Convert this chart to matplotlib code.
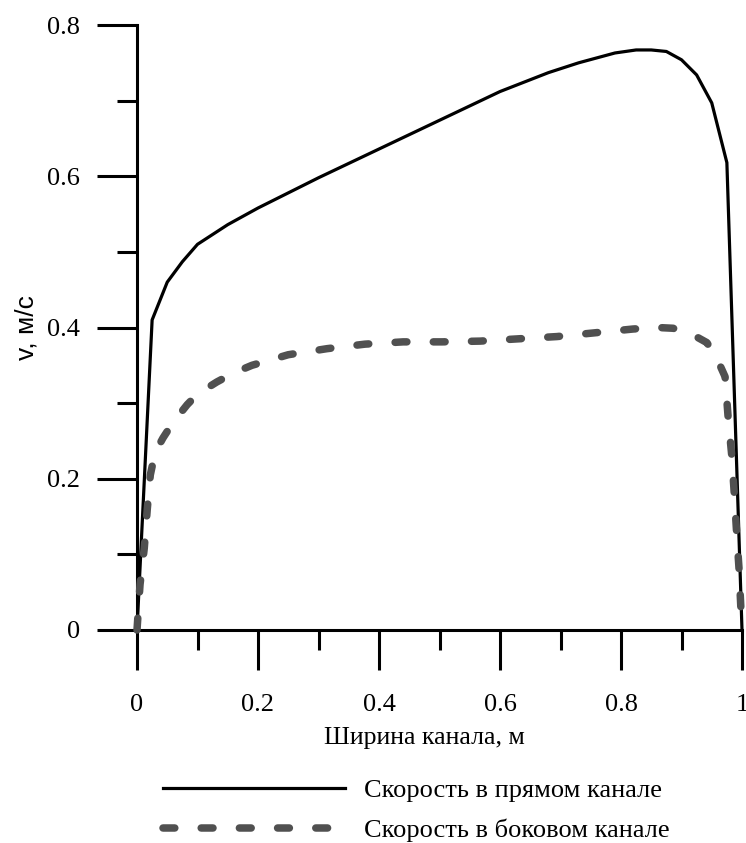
import matplotlib

matplotlib.use('Agg')
import matplotlib.pyplot as plt
import numpy as np

plt.rcParams.update({
    'font.family': ['Liberation Serif', 'DejaVu Serif'],
    'font.size': 19,
    'lines.scale_dashes': False,
})

# ширина канала, м / скорость, м/с
x_direct = [0, 0.025, 0.05, 0.075, 0.1, 0.15, 0.2, 0.3, 0.4, 0.5, 0.6, 0.68, 0.73, 0.79,
            0.825, 0.85, 0.875, 0.9, 0.925, 0.95, 0.975, 1.0]
v_direct = [0, 0.41, 0.46, 0.487, 0.51, 0.536, 0.558, 0.598, 0.636, 0.674, 0.712, 0.737, 0.75, 0.763,
            0.767, 0.767, 0.765, 0.754, 0.734, 0.697, 0.618, 0]

x_side = [0, 0.005, 0.012, 0.017, 0.022, 0.03, 0.043, 0.06, 0.083, 0.1, 0.132, 0.16, 0.19, 0.25,
          0.314, 0.377, 0.44, 0.504, 0.567, 0.63, 0.694, 0.757, 0.82, 0.86, 0.886, 0.915, 0.942,
          0.958, 0.972, 0.977, 0.983, 0.987, 0.991, 0.995, 0.998, 1.0]
v_side = [0, 0.06, 0.108, 0.16, 0.205, 0.235, 0.254, 0.275, 0.298, 0.312, 0.328, 0.34, 0.35, 0.364,
          0.372, 0.378, 0.381, 0.381, 0.382, 0.385, 0.388, 0.393, 0.398, 0.4, 0.399, 0.392, 0.38,
          0.36, 0.335, 0.282, 0.231, 0.183, 0.13, 0.082, 0.031, 0]

xticks = [0, 0.2, 0.4, 0.6, 0.8, 1.0]
xtick_labels = ["0", "0.2", "0.4", "0.6", "0.8", "1"]
yticks = [0, 0.2, 0.4, 0.6, 0.8]
ytick_labels = ["0", "0.2", "0.4", "0.6", "0.8"]

labels = ["Скорость в прямом канале", "Скорость в боковом канале"]

fig = plt.figure(figsize=(7.46, 8.43), dpi=100)
ax = fig.add_axes([137 / 746, 1 - 630 / 843, 605 / 746, 605 / 843])

ax.plot(x_direct, v_direct, color='black', linewidth=2.3, label=labels[0],
        clip_on=False, zorder=3)
ax.plot(x_side, v_side, color='#505050', linewidth=5.4, label=labels[1],
        dashes=(8.5, 19), dash_capstyle='round', clip_on=False, zorder=4)

ax.set_xlim(0, 1)
ax.set_ylim(0, 0.8)
ax.set_xticks(xticks)
ax.set_xticklabels(xtick_labels)
ax.set_yticks(yticks)
ax.set_yticklabels(ytick_labels)
ax.set_xticks(np.arange(0.1, 1.0, 0.2), minor=True)
ax.set_yticks(np.arange(0.1, 0.8, 0.2), minor=True)

for side in ['top', 'right']:
    ax.spines[side].set_visible(False)
for side in ['left', 'bottom']:
    ax.spines[side].set_linewidth(2.2)
    ax.spines[side].set_capstyle('projecting')

ax.tick_params(which='major', direction='out', length=29, width=2.2, pad=12)
ax.tick_params(which='minor', direction='out', length=14.5, width=2.2)
ax.tick_params(axis='x', which='major', pad=17)

ax.set_xlabel("Ширина канала, м", fontsize=18.5, labelpad=8)
ax.xaxis.label.set_x((424 - 137) / 605)
ax.set_ylabel("v, м/с", family=['Liberation Sans', 'DejaVu Sans'], fontsize=19, labelpad=6)

fig.legend(loc='upper left', bbox_to_anchor=(163 / 746, 1 - 779 / 843), frameon=False,
           borderpad=0, borderaxespad=0, handlelength=6.9, handletextpad=0.72,
           labelspacing=0.62, fontsize=19)

fig.savefig("out.png", dpi=100)
